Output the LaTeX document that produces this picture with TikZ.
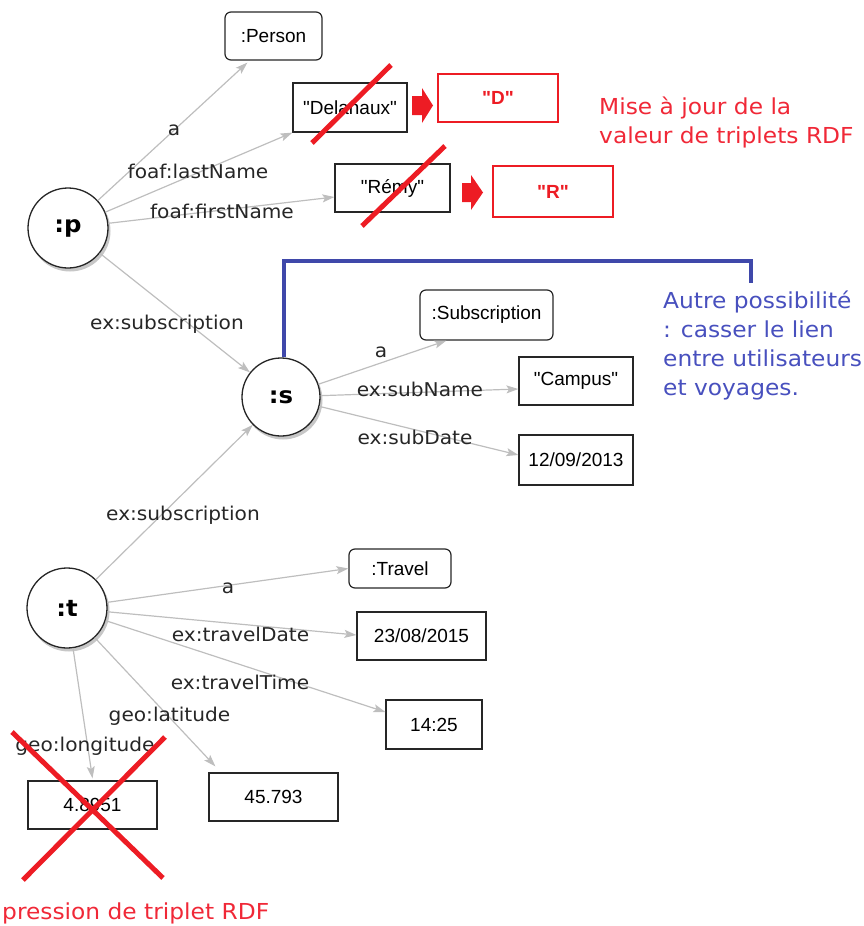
\documentclass[tikz,border=0pt]{standalone}
\usepackage{fontspec}
\setmainfont{DejaVu Sans}[FakeStretch=1.06]
\newfontfamily\boxfont{Liberation Sans}
\usetikzlibrary{arrows.meta,calc}
\definecolor{edgegray}{RGB}{190,190,190}
\definecolor{redmark}{RGB}{237,28,36}
\definecolor{redtext}{RGB}{240,40,55}
\definecolor{bluemark}{RGB}{63,72,170}
\definecolor{bluetext}{RGB}{72,80,190}
\tikzset{
  res/.style={circle, draw=black!85, line width=1.3pt, minimum size=80pt, inner sep=0pt, fill=white,
    font=\fontsize{23}{27}\selectfont\bfseries},
  cls/.style={draw=black!85, line width=1.2pt, rounded corners=6pt, minimum height=48pt, inner sep=0pt,
    font=\boxfont\fontsize{19}{22}\selectfont},
  lit/.style={draw=black!85, line width=1.2pt, minimum height=48pt, inner sep=0pt,
    font=\boxfont\fontsize{19}{22}\selectfont},
  newval/.style={draw=redmark, line width=1.2pt, minimum height=48pt, inner sep=0pt, text=redmark,
    font=\boxfont\bfseries\fontsize{19}{22}\selectfont},
  lbl/.style={font=\fontsize{19}{22}\selectfont, text=black!85, inner sep=0pt},
  rdfedge/.style={draw=edgegray, line width=1.2pt, -{Stealth[length=12pt,width=8pt,inset=2.5pt]}},
  strike/.style={draw=redmark, line width=5pt},
  blockarrow/.style={fill=redmark},
  shadowc/.style={fill=black!22},
  note/.style={font=\fontsize{22}{29}\selectfont, inner sep=0pt, align=left}
}
\begin{document}
\begin{tikzpicture}[x=1pt,y=-1pt]
\useasboundingbox (0,0) rectangle (864,926);
\clip (0,0) rectangle (864,926);

% shadows of resource circles
\fill[shadowc] (70,231) circle (40.5pt);
\fill[shadowc] (283,400) circle (39.5pt);
\fill[shadowc] (69,611) circle (40.5pt);

% resource nodes
\node[res] (p) at (68,228) {:p};
\node[res, minimum size=78pt] (s) at (281,397) {:s};
\node[res] (t) at (67,608) {:t};

% boxes
\node[cls, minimum width=97pt] (person) at (273.5,36) {:Person};
\node[lit, minimum width=114pt, minimum height=49pt] (dela) at (350,107.5) {"Delanaux"};
\node[lit, minimum width=115pt] (remy) at (392.5,188) {"Rémy"};
\node[newval, minimum width=120pt] (newd) at (498,98) {"D"};
\node[newval, minimum width=120pt, minimum height=51pt] (newr) at (553,191.5) {"R"};
\node[cls, minimum width=133pt, minimum height=50pt] (subscr) at (486.5,315) {:Subscription};
\node[lit, minimum width=114pt] (campus) at (576,381) {"Campus"};
\node[lit, minimum width=114pt, minimum height=50pt] (date1) at (576,460) {12/09/2013};
\node[cls, minimum width=102pt, minimum height=39pt] (travel) at (400,568.5) {:Travel};
\node[lit, minimum width=129pt] (date2) at (421.5,636) {23/08/2015};
\node[lit, minimum width=96pt, minimum height=49pt] (time) at (434,724.5) {14:25};
\node[lit, minimum width=129pt] (lat) at (273.5,797) {45.793};
\node[lit, minimum width=129pt] (lon) at (92.5,805) {4.8951};

% edges
\draw[rdfedge] (p) -- ([xshift=23pt,yshift=-2pt]person.south west);
\draw[rdfedge] (p) -- (dela.south west);
\draw[rdfedge] (p) -- ([yshift=-9pt]remy.west);
\draw[rdfedge] (p) -- (s);
\draw[rdfedge] (s) -- ([xshift=27pt]subscr.south west);
\draw[rdfedge] (s) -- ([yshift=-8pt]campus.west);
\draw[rdfedge] (s) -- ([yshift=5pt]date1.west);
\draw[rdfedge] (t) -- (s);
\draw[rdfedge] (t) -- (travel.west);
\draw[rdfedge] (t) -- ([yshift=1pt]date2.west);
\draw[rdfedge] (t) -- ([yshift=12.5pt]time.west);
\draw[rdfedge] (t) -- ([xshift=7pt,yshift=6pt]lat.north west);
\draw[rdfedge] (t) -- ([yshift=2pt]lon.north);

% edge labels
\node[lbl] (la1) at (174,130) {a};
\node[lbl] (la2) at (198,171) {foaf:lastName};
\node[lbl] (la3) at (222,211) {foaf:firstName};
\node[lbl] (la4) at (167,324) {ex:subscription};
\node[lbl] (la5) at (381,352) {a};
\node[lbl] (la6) at (420,389) {ex:subName};
\node[lbl] (la7) at (415,437) {ex:subDate};
\node[lbl] (la8) at (183,515) {ex:subscription};
\node[lbl] (la9) at (228,588) {a};
\node[lbl] (la10) at (240.5,634) {ex:travelDate};
\node[lbl] (la11) at (240,682) {ex:travelTime};
\node[lbl] (la12) at (169.5,716) {geo:latitude};
\node[lbl] (la13) at (85,746) {geo:longitude};

% red update marks
\draw[strike] (312,143) -- (391,65);
\draw[strike] (362,226) -- (445,146);
\fill[blockarrow] (412,96) -- (422,96) -- (422,88) -- (433,105.5) -- (422,123) -- (422,115) -- (412,115) -- cycle;
\fill[blockarrow] (462,183) -- (471,183) -- (471,175) -- (483,192.5) -- (471,210) -- (471,202) -- (462,202) -- cycle;
\node[note, text=redtext, anchor=north west] (upd) at (599,97) {Mise à jour de la\\valeur de triplets RDF};

% deletion mark
\draw[strike] (12,732) -- (163,878);
\draw[strike] (23,880) -- (165,737);
\node[note, text=redtext, anchor=base west] (del) at (2,919) {pression de triplet RDF};

% alternative
\coordinate (altend) at (751,283);
\draw[draw=bluemark, line width=4pt] ([xshift=3pt]s.north) |- ([yshift=22pt]altend) -- (altend);
\node[note, text=bluetext, anchor=north west] (alt) at (663,291) {Autre possibilité\\: casser le lien\\entre utilisateurs\\et voyages.};
\end{tikzpicture}
\end{document}
